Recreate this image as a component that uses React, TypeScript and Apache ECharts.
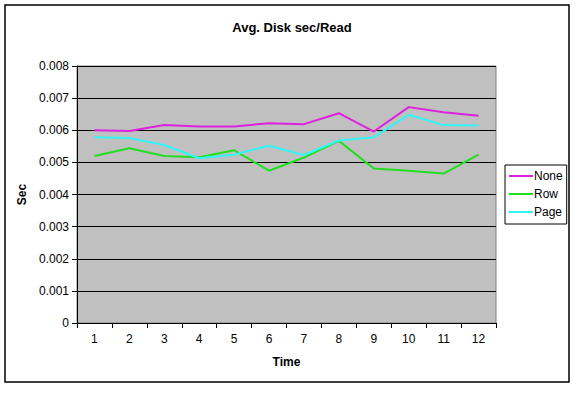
import React, { useEffect, useRef } from "react";
import * as echarts from "echarts";

const categories = ["1", "2", "3", "4", "5", "6", "7", "8", "9", "10", "11", "12"];
const noneValues = [0.0060, 0.00598, 0.00616, 0.00612, 0.00612, 0.00622, 0.00619, 0.00653, 0.00596, 0.00672, 0.00656, 0.00645];
const rowValues = [0.0052, 0.00544, 0.0052, 0.00516, 0.00538, 0.00474, 0.00515, 0.00567, 0.00481, 0.00474, 0.00465, 0.00524];
const pageValues = [0.00578, 0.00576, 0.00554, 0.00513, 0.00524, 0.00552, 0.00523, 0.00568, 0.00578, 0.00648, 0.00616, 0.00615];
const seriesNames = ["None", "Row", "Page"];
const seriesColors = ["#dd22dd", "#22dd22", "#33f5f5"];

export default function App() {
  const ref = useRef<HTMLDivElement>(null);
  useEffect(() => {
    document.body.style.margin = "0";
    const chart = echarts.init(ref.current!, null, { renderer: "svg" });
    const font = "Arial, 'Liberation Sans', sans-serif";
    const data = [noneValues, rowValues, pageValues];
    chart.setOption({
      animation: false,
      backgroundColor: "#ffffff",
      textStyle: { fontFamily: font },
      title: {
        text: "Avg. Disk sec/Read",
        left: 287,
        top: 16,
        textAlign: "center",
        textStyle: { fontSize: 13, fontWeight: "bold", color: "#000", fontFamily: font },
      },
      graphic: [
        {
          type: "rect",
          shape: { x: 5, y: 5, width: 564, height: 377 },
          style: { fill: "none", stroke: "#000", lineWidth: 1.5 },
          silent: true,
        },
      ],
      legend: {
        orient: "vertical",
        left: 505,
        top: 165,
        data: seriesNames,
        icon: "rect",
        itemWidth: 24,
        itemHeight: 2,
        itemGap: 6,
        padding: [5, 4, 6, 4],
        borderColor: "#000",
        borderWidth: 1,
        textStyle: { fontSize: 12, color: "#000", fontFamily: font, padding: [0, 0, 0, -4] },
      },
      grid: {
        left: 77,
        top: 66,
        width: 419,
        height: 257,
        show: true,
        backgroundColor: "#c0c0c0",
        borderColor: "#808080",
        borderWidth: 1,
      },
      xAxis: {
        type: "category",
        data: categories,
        boundaryGap: true,
        name: "Time",
        nameLocation: "middle",
        nameGap: 33,
        nameTextStyle: { fontSize: 12, fontWeight: "bold", color: "#000", fontFamily: font },
        axisLine: { lineStyle: { color: "#000", width: 1 } },
        axisTick: { show: true, length: 5, lineStyle: { color: "#000" } },
        axisLabel: { fontSize: 12, color: "#000", margin: 10, fontFamily: font },
        splitLine: { show: false },
      },
      yAxis: {
        type: "value",
        min: 0,
        max: 0.008,
        interval: 0.001,
        name: "Sec",
        nameLocation: "middle",
        nameGap: 45,
        nameRotate: 90,
        nameTextStyle: { fontSize: 12, fontWeight: "bold", color: "#000", fontFamily: font },
        axisLine: { show: true, lineStyle: { color: "#000", width: 1 } },
        axisTick: { show: true, length: 5, lineStyle: { color: "#000" } },
        axisLabel: {
          fontSize: 12,
          color: "#000",
          margin: 8,
          fontFamily: font,
          formatter: (v: number) => (v === 0 ? "0" : v.toFixed(3)),
        },
        splitLine: { show: true, lineStyle: { color: "#000", width: 1 } },
      },
      series: seriesNames.map((name, i) => ({
        name,
        type: "line",
        data: data[i],
        symbol: "none",
        color: seriesColors[i],
        lineStyle: { width: 2, color: seriesColors[i] },
      })),
    });
    return () => chart.dispose();
  }, []);
  return <div ref={ref} style={{ width: 580, height: 393 }} />;
}
